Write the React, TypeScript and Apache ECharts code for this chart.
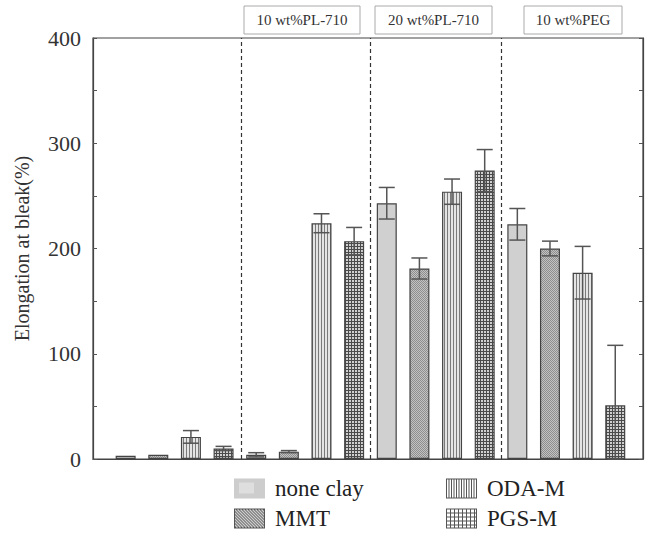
import React, { useEffect, useRef } from 'react';
import * as echarts from 'echarts';

// Groups (plasticizer) and clay types
const groupLabels = ['', '10 wt%PL-710', '20 wt%PL-710', '10 wt%PEG'];
const clayNames = ['none clay', 'MMT', 'ODA-M', 'PGS-M'];

// Elongation at break (%) per group, for each clay type
const noneClay = [3, 4, 243, 223];
const mmt = [4, 7, 181, 200];
const odaM = [21, 224, 254, 177];
const pgsM = [10, 207, 274, 51];

// Error (±) per group
const noneClayErr = [0, 2, 15, 15];
const mmtErr = [0, 1, 10, 7];
const odaMErr = [6, 9, 12, 25];
const pgsMErr = [2, 13, 20, 57];

const yTicks = [0, 100, 200, 300, 400];

const FONT = 'Liberation Serif';

function makeCanvas(w: number, h: number, draw: (ctx: CanvasRenderingContext2D) => void) {
  const c = document.createElement('canvas');
  c.width = w;
  c.height = h;
  const ctx = c.getContext('2d')!;
  draw(ctx);
  return c;
}
function makePattern(w: number, h: number, draw: (ctx: CanvasRenderingContext2D) => void) {
  return { image: makeCanvas(w, h, draw), repeat: 'repeat' } as any;
}
function legendIcon(draw: (ctx: CanvasRenderingContext2D, w: number, h: number) => void, border: boolean) {
  const w = 62;
  const h = 40;
  const c = makeCanvas(w, h, (ctx) => {
    ctx.fillStyle = '#fff';
    ctx.fillRect(0, 0, w, h);
    draw(ctx, w, h);
    if (border) {
      ctx.strokeStyle = '#555';
      ctx.lineWidth = 2;
      ctx.strokeRect(1, 1, w - 2, h - 2);
    }
  });
  return 'image://' + c.toDataURL();
}

export default function App() {
  const ref = useRef<HTMLDivElement>(null);

  useEffect(() => {
    if (!ref.current) return;
    const chart = echarts.init(ref.current, null, { renderer: 'svg' });

    const noneFill = '#d0d0d0';
    const mmtFill = makePattern(2, 2, (ctx) => {
      ctx.fillStyle = '#c2c2c2';
      ctx.fillRect(0, 0, 2, 2);
      ctx.fillStyle = '#8e8e8e';
      ctx.fillRect(0, 0, 1, 1);
      ctx.fillRect(1, 1, 1, 1);
    });
    const odaFill = makePattern(3, 4, (ctx) => {
      ctx.fillStyle = '#e4e4e4';
      ctx.fillRect(0, 0, 3, 4);
      ctx.fillStyle = '#7a7a7a';
      ctx.fillRect(0, 0, 1, 4);
    });
    const pgsFill = makePattern(3, 3, (ctx) => {
      ctx.fillStyle = '#d0d0d0';
      ctx.fillRect(0, 0, 3, 3);
      ctx.fillStyle = '#4a4a4a';
      ctx.fillRect(0, 0, 3, 1);
      ctx.fillRect(0, 0, 1, 3);
    });

    const icons = [
      legendIcon((ctx, w, h) => {
        ctx.fillStyle = '#cdcdcd';
        ctx.fillRect(0, 0, w, h);
        ctx.fillStyle = '#dedede';
        ctx.fillRect(10, 8, 30, 22);
      }, false),
      legendIcon((ctx, w, h) => {
        ctx.strokeStyle = '#444';
        ctx.lineWidth = 2;
        for (let k = -h; k <= w; k += 6) {
          ctx.beginPath();
          ctx.moveTo(k, 0);
          ctx.lineTo(k + h, h);
          ctx.stroke();
        }
      }, true),
      legendIcon((ctx, w, h) => {
        ctx.fillStyle = '#555';
        for (let k = 0; k < w; k += 5) ctx.fillRect(k, 0, 2, h);
      }, true),
      legendIcon((ctx, w, h) => {
        ctx.fillStyle = '#555';
        for (let k = 0; k < w; k += 8) ctx.fillRect(k, 0, 2, h);
        for (let k = 0; k < h; k += 8) ctx.fillRect(0, k, w, 2);
      }, true),
    ];

    const values = [noneClay, mmt, odaM, pgsM];
    const errs = [noneClayErr, mmtErr, odaMErr, pgsMErr];
    const fills = [noneFill, mmtFill, odaFill, pgsFill];

    const barSeries = clayNames.map((name, s) => ({
      name,
      type: 'bar',
      barWidth: 20,
      barGap: '-100%',
      data: values[s].map((v, g) => [g * 4 + s, v]),
      itemStyle: { color: fills[s], borderColor: '#444', borderWidth: 1.2 },
      z: 2,
      ...(s === 0
        ? {
            markLine: {
              silent: true,
              symbol: 'none',
              label: { show: false },
              lineStyle: { type: [4, 3], color: '#333', width: 1.2 },
              data: [3.55, 7.5, 11.5].map((x) => ({ xAxis: x })),
            },
          }
        : {}),
    }));

    const errData: number[][] = [];
    values.forEach((arr, s) =>
      arr.forEach((v, g) => {
        if (errs[s][g] > 0) errData.push([g * 4 + s, v, errs[s][g]]);
      })
    );

    const errStyle = { stroke: '#555', lineWidth: 1.5 };
    const errSeries = {
      type: 'custom',
      data: errData,
      encode: { x: 0, y: 1 },
      z: 10,
      silent: true,
      renderItem: (_p: any, api: any) => {
        const x = api.value(0);
        const v = api.value(1);
        const e = api.value(2);
        const top = api.coord([x, v + e]);
        const bot = api.coord([x, Math.max(0, v - e)]);
        const hw = 8;
        return {
          type: 'group',
          children: [
            { type: 'line', shape: { x1: top[0], y1: top[1], x2: bot[0], y2: bot[1] }, style: errStyle },
            { type: 'line', shape: { x1: top[0] - hw, y1: top[1], x2: top[0] + hw, y2: top[1] }, style: errStyle },
            { type: 'line', shape: { x1: bot[0] - hw, y1: bot[1], x2: bot[0] + hw, y2: bot[1] }, style: errStyle },
          ],
        };
      },
    };

    const boxes = [
      { x: 244, w: 116 },
      { x: 375, w: 117 },
      { x: 524, w: 98 },
    ];
    const graphics: any[] = [];
    boxes.forEach((b, i) => {
      graphics.push({
        type: 'rect',
        shape: { x: b.x, y: 6, width: b.w, height: 28 },
        style: { fill: '#fff', stroke: '#aaa', lineWidth: 1 },
      });
      graphics.push({
        type: 'text',
        x: b.x + b.w / 2,
        y: 20,
        style: {
          text: groupLabels[i + 1],
          fill: '#333',
          font: `15px "${FONT}"`,
          textAlign: 'center',
          textVerticalAlign: 'middle',
        },
      });
    });

    const legendText = { fontSize: 23, fontFamily: FONT, color: '#222', padding: [0, 0, 0, 5] };
    const legendBase = {
      orient: 'vertical',
      top: 477,
      padding: 0,
      itemWidth: 31,
      itemHeight: 20,
      itemGap: 7,
      height: 60,
      textStyle: legendText,
    };

    chart.setOption({
      animation: false,
      backgroundColor: '#fff',
      grid: {
        left: 93,
        right: 5,
        top: 38,
        bottom: 74,
        show: true,
        borderColor: '#444',
        borderWidth: 1.2,
        backgroundColor: 'transparent',
      },
      legend: [
        {
          ...legendBase,
          left: 234,
          data: [
            { name: clayNames[0], icon: icons[0] },
            { name: clayNames[1], icon: icons[1] },
          ],
        },
        {
          ...legendBase,
          left: 446,
          data: [
            { name: clayNames[2], icon: icons[2] },
            { name: clayNames[3], icon: icons[3] },
          ],
        },
      ],
      xAxis: {
        type: 'value',
        min: -1,
        max: 15.85,
        axisLine: { show: true, onZero: false, lineStyle: { color: '#444', width: 1.2 } },
        axisTick: { show: false },
        axisLabel: { show: false },
        splitLine: { show: false },
      },
      yAxis: [
        {
          type: 'value',
          min: yTicks[0],
          max: yTicks[yTicks.length - 1],
          interval: 100,
          name: 'Elongation at bleak(%)',
          nameLocation: 'middle',
          nameGap: 61,
          nameRotate: 90,
          nameTextStyle: { fontSize: 20, fontFamily: FONT, color: '#333' },
          axisLine: { show: true, onZero: false, lineStyle: { color: '#444', width: 1.2 } },
          axisTick: { show: true, inside: true, length: 4, lineStyle: { color: '#555' } },
          minorTick: { show: true, splitNumber: 2, length: 4, lineStyle: { color: '#555' } },
          axisLabel: { fontSize: 22, fontFamily: FONT, color: '#333', margin: 12 },
          splitLine: { show: false },
        },
        {
          type: 'value',
          position: 'right',
          min: yTicks[0],
          max: yTicks[yTicks.length - 1],
          interval: 50,
          axisLine: { show: true, onZero: false, lineStyle: { color: '#444', width: 1.2 } },
          axisTick: { show: true, inside: true, length: 4, lineStyle: { color: '#555' } },
          axisLabel: { show: false },
          splitLine: { show: false },
        },
      ],
      series: [...barSeries, errSeries],
      graphic: graphics,
    } as any);

    return () => chart.dispose();
  }, []);

  return (
    <div
      ref={ref}
      style={{ position: 'fixed', left: 0, top: 0, width: 648, height: 533, background: '#fff' }}
    />
  );
}
